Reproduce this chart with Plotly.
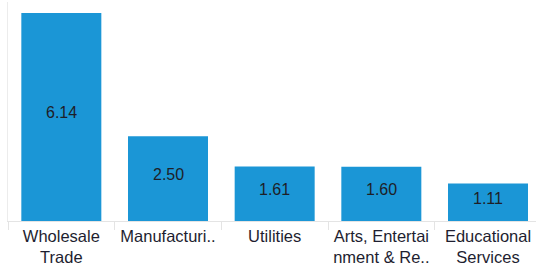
import plotly.graph_objects as go

categories = ["Wholesale<br>Trade", "Manufacturi..", "Utilities", "Arts, Entertai<br>nment & Re..", "Educational<br>Services"]
values = [6.14, 2.50, 1.61, 1.60, 1.11]
value_labels = ["6.14", "2.50", "1.61", "1.60", "1.11"]

fig = go.Figure(go.Bar(
    x=categories, y=values,
    marker=dict(color="#1b96d6", line=dict(width=0)),
))

for c, v, t in zip(categories, values, value_labels):
    fig.add_annotation(
        x=c, y=v / 2, text=t, showarrow=False, yshift=4,
        font=dict(family="Liberation Sans, Arial", size=16, color="#1e1e28"),
    )

fig.update_layout(
    width=536, height=270,
    margin=dict(l=8, r=0, t=2, b=49),
    paper_bgcolor="white", plot_bgcolor="white",
    bargap=0.25, showlegend=False,
    font=dict(family="Liberation Sans, Arial", size=16, color="#1e1e28"),
)
fig.update_xaxes(
    type="category", range=[-0.5, 4.45],
    showline=True, linecolor="#e4e4e4", linewidth=1,
    ticks="outside", tickson="boundaries", ticklen=8, tickcolor="#e4e4e4",
    tickfont=dict(family="Liberation Sans, Arial", size=16.5, color="#1e1e30"),
    showgrid=False, zeroline=False,
)
fig.update_yaxes(
    range=[0, 6.464], showline=True, linecolor="#ececec", linewidth=1,
    showticklabels=False, ticks="", showgrid=False, zeroline=False,
)

fig.write_html("out.html", config={"displayModeBar": False},
               post_script="document.body.style.margin='0';")
